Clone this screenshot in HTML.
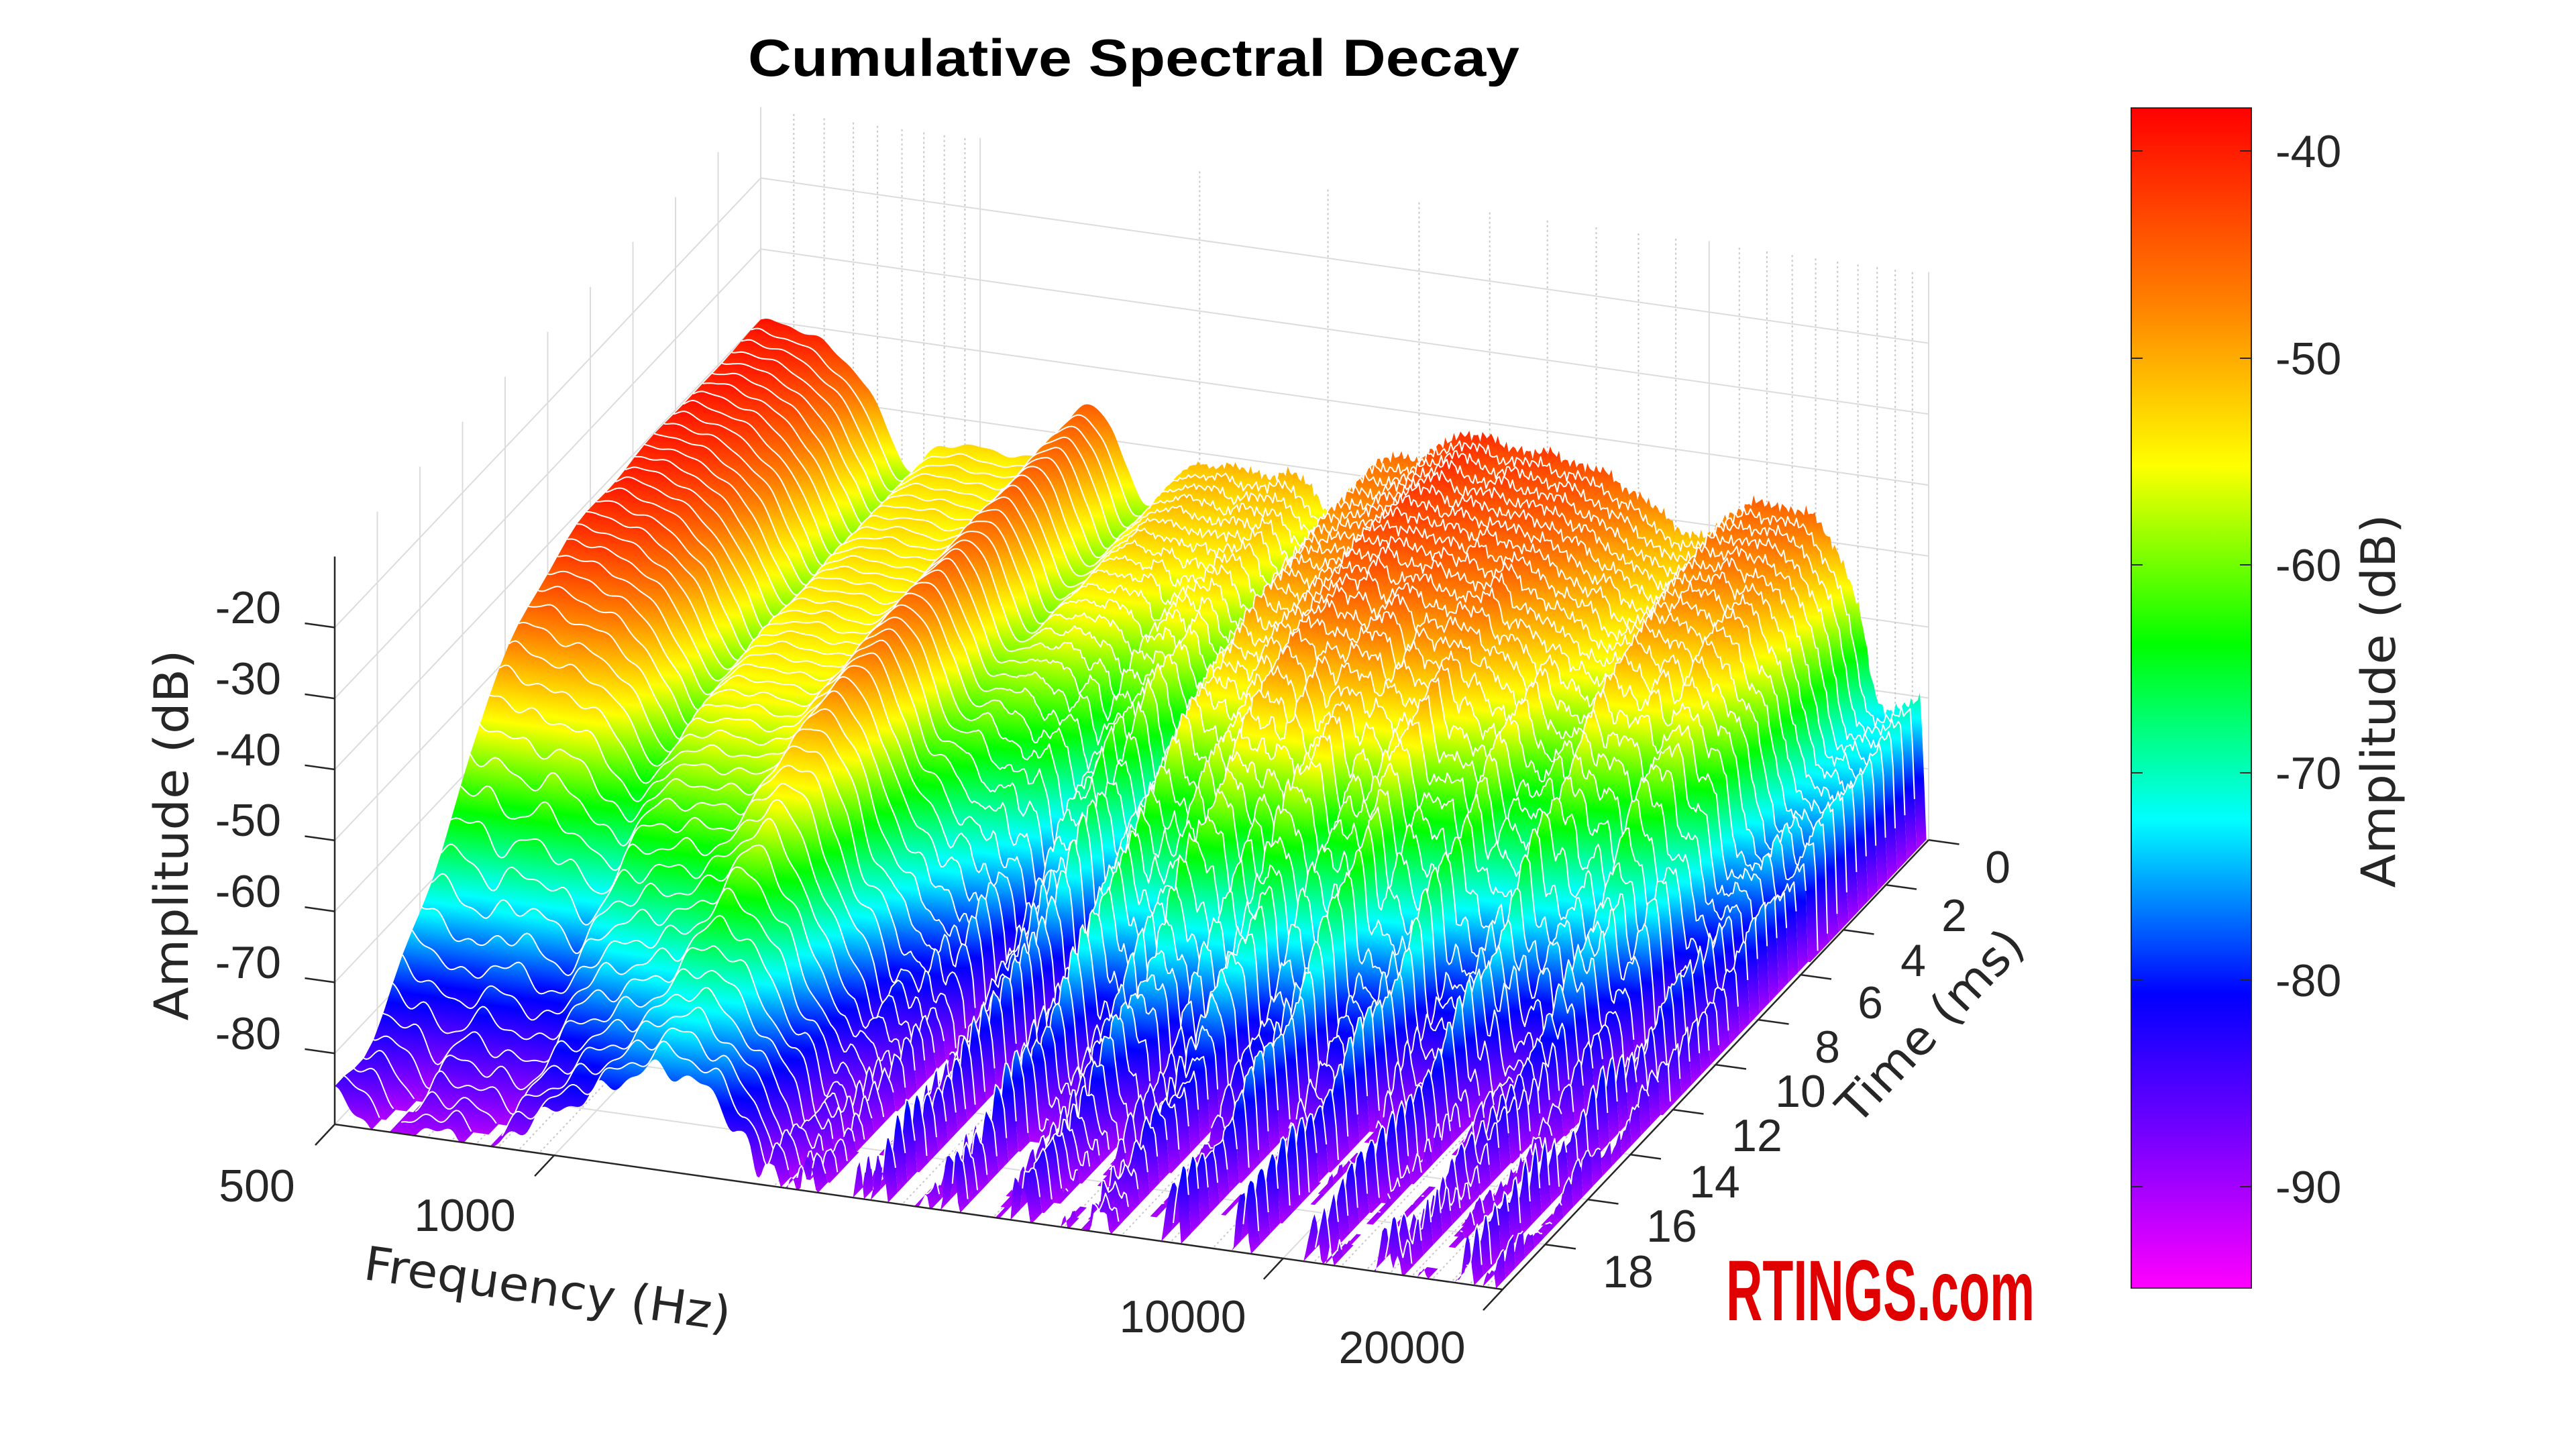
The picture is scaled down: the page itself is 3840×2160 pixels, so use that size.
<!DOCTYPE html>
<html><head><meta charset="utf-8">
<style>
html,body{margin:0;padding:0;background:#fff;overflow:hidden;}
svg{display:block;}
text{font-family:"Liberation Sans",Arial,sans-serif;fill:#262626;}
.lab{font-family:"DejaVu Sans","Liberation Sans",sans-serif;}
</style></head><body>
<svg id="svg" xmlns="http://www.w3.org/2000/svg" width="3840" height="2160" viewBox="0 0 3840 2160">
<defs>
<linearGradient id="cb" x1="0" y1="0" x2="0" y2="1">
<stop offset="0" stop-color="#ff0000"/><stop offset="0.165" stop-color="#ff8000"/><stop offset="0.303" stop-color="#ffff00"/><stop offset="0.454" stop-color="#00ff00"/><stop offset="0.603" stop-color="#00ffff"/><stop offset="0.751" stop-color="#0000ff"/><stop offset="0.88" stop-color="#8000ff"/><stop offset="1" stop-color="#ff00ff"/>
</linearGradient>
<linearGradient id="sg" gradientUnits="userSpaceOnUse" x1="0" y1="1054.6" x2="0" y2="1657.2" gradientTransform="skewY(8.045)">
<stop offset="0" stop-color="#ff0000"/><stop offset="0.165" stop-color="#ff8000"/><stop offset="0.303" stop-color="#ffff00"/><stop offset="0.454" stop-color="#00ff00"/><stop offset="0.603" stop-color="#00ffff"/><stop offset="0.751" stop-color="#0000ff"/><stop offset="0.88" stop-color="#8000ff"/><stop offset="1" stop-color="#ff00ff"/>
</linearGradient>
</defs>
<rect width="3840" height="2160" fill="#fff"/>
<g id="grid"></g>
<g id="surf"></g>
<g id="axes"></g>

<text x="1690" y="113" text-anchor="middle" font-size="78" font-weight="bold" style="fill:#000" textLength="1150" lengthAdjust="spacingAndGlyphs">Cumulative Spectral Decay</text>

<g font-size="68" text-anchor="end">
<text x="419" y="929">-20</text>
<text x="419" y="1035">-30</text>
<text x="419" y="1141">-40</text>
<text x="419" y="1246">-50</text>
<text x="419" y="1352">-60</text>
<text x="419" y="1458">-70</text>
<text x="419" y="1564">-80</text>
</g>
<g font-size="68" text-anchor="middle">
<text x="383" y="1791">500</text>
<text x="693" y="1835">1000</text>
<text x="1763" y="1986">10000</text>
<text x="2090" y="2032">20000</text>
<text x="2978" y="1316">0</text>
<text x="2913" y="1388">2</text>
<text x="2852" y="1455">4</text>
<text x="2788" y="1518">6</text>
<text x="2724" y="1584">8</text>
<text x="2684" y="1650">10</text>
<text x="2619" y="1716">12</text>
<text x="2556" y="1785">14</text>
<text x="2492" y="1851">16</text>
<text x="2427" y="1919">18</text>
</g>

<text class="lab" font-size="70" text-anchor="middle" transform="translate(280,1245) rotate(-90)" textLength="553" lengthAdjust="spacingAndGlyphs">Amplitude (dB)</text>
<text class="lab" font-size="70" text-anchor="middle" transform="translate(813,1945) rotate(8)" textLength="551" lengthAdjust="spacingAndGlyphs">Frequency (Hz)</text>
<text class="lab" font-size="70" text-anchor="middle" transform="translate(2895,1546) rotate(-46.5)" textLength="368" lengthAdjust="spacingAndGlyphs">Time (ms)</text>

<!-- colorbar -->
<rect x="3177" y="161" width="179" height="1759" fill="url(#cb)" stroke="#262626" stroke-width="2"/>
<g stroke="#262626" stroke-width="2">
<line x1="3177" y1="225" x2="3194" y2="225"/><line x1="3339" y1="225" x2="3356" y2="225"/>
<line x1="3177" y1="534" x2="3194" y2="534"/><line x1="3339" y1="534" x2="3356" y2="534"/>
<line x1="3177" y1="842" x2="3194" y2="842"/><line x1="3339" y1="842" x2="3356" y2="842"/>
<line x1="3177" y1="1152" x2="3194" y2="1152"/><line x1="3339" y1="1152" x2="3356" y2="1152"/>
<line x1="3177" y1="1461" x2="3194" y2="1461"/><line x1="3339" y1="1461" x2="3356" y2="1461"/>
<line x1="3177" y1="1769" x2="3194" y2="1769"/><line x1="3339" y1="1769" x2="3356" y2="1769"/>
</g>
<g font-size="68" text-anchor="start">
<text x="3392" y="249">-40</text>
<text x="3392" y="558">-50</text>
<text x="3392" y="866">-60</text>
<text x="3392" y="1176">-70</text>
<text x="3392" y="1485">-80</text>
<text x="3392" y="1793">-90</text>
</g>
<text class="lab" font-size="70" text-anchor="middle" transform="translate(3570,1045) rotate(-90)" textLength="557" lengthAdjust="spacingAndGlyphs">Amplitude (dB)</text>

<text x="2573" y="1968" font-size="128" font-weight="bold" style="fill:#e00000;font-family:'Liberation Sans Narrow','Liberation Sans',sans-serif" textLength="460" lengthAdjust="spacingAndGlyphs">RTINGS.com</text>
</svg>
<script>
(function(){
var NS='http://www.w3.org/2000/svg';
var OX=499,OY=1676,FX=1086.7,FY=153.6,TX=31.75,TY=33.5,ZS=10.58,LM=1.602;
function P(L,t,z){var d=20-t;return [OX+FX*L+d*TX, OY+FY*L-d*TY-(z+90)*ZS];}
function el(tag,attrs,parent){var e=document.createElementNS(NS,tag);for(var k in attrs)e.setAttribute(k,attrs[k]);parent.appendChild(e);return e;}
function line(g,a,b,stroke,w,dash){var o={x1:a[0].toFixed(1),y1:a[1].toFixed(1),x2:b[0].toFixed(1),y2:b[1].toFixed(1),stroke:stroke,'stroke-width':w};if(dash)o['stroke-dasharray']=dash;el('line',o,g);}
function Lf(f){return Math.log(f/500)/Math.LN10;}
var grid=document.getElementById('grid');
var major=[500,1000,10000,20000];
var minor=[555,611,670,723,781,837,893,953,2000,3000,4000,5000,6000,7000,8000,9000,11000,12000,13000,14000,15000,16000,17000,18000,19000];
var GM='#dcdcdc',Gm='#c8c8c8';
var z,t,i;
for(z=-80;z<=-20;z+=10) line(grid,P(0,0,z),P(LM,0,z),GM,2);
for(i=0;i<major.length;i++) line(grid,P(Lf(major[i]),0,-90),P(Lf(major[i]),0,-10),GM,2);
for(i=0;i<minor.length;i++) line(grid,P(Lf(minor[i]),0,-90),P(Lf(minor[i]),0,-10),Gm,2,'3,4');
for(z=-80;z<=-20;z+=10) line(grid,P(0,20,z),P(0,0,z),GM,2);
for(t=0;t<=18;t+=2) line(grid,P(0,t,-90),P(0,t,-10),GM,2);
for(t=0;t<=18;t+=2) line(grid,P(0,t,-90),P(LM,t,-90),GM,2);
for(i=0;i<major.length;i++) line(grid,P(Lf(major[i]),0,-90),P(Lf(major[i]),20,-90),GM,2);
for(i=0;i<minor.length;i++) line(grid,P(Lf(minor[i]),0,-90),P(Lf(minor[i]),20,-90),Gm,2,'3,4');

var A0p=[[0,-40.2],[0.0156,-39.9],[0.05,-40.6],[0.09,-42.1],[0.145,-47.3],[0.18,-54],[0.205,-58.5],[0.23,-55.5],[0.25,-54.1],[0.30,-53.6],[0.37,-54],[0.40,-51],[0.43,-47],[0.458,-45.5],[0.48,-48],[0.502,-53.3],[0.525,-58.4],[0.55,-56.5],[0.581,-52.8],[0.614,-51.4],[0.70,-51.7],[0.748,-51.7],[0.781,-56],[0.80,-54],[0.815,-51.4],[0.848,-47.6],[0.905,-46.1],[0.976,-41.7],[1.02,-43],[1.071,-43.1],[1.149,-44.6],[1.20,-47],[1.262,-51],[1.295,-51.8],[1.339,-47.2],[1.406,-45.9],[1.462,-48.7],[1.506,-58.7],[1.528,-70.3],[1.56,-72],[1.602,-69.5]];
var Dp=[[0,-86,14.6,1.8],[0.04,-88.5,14.6,1.8],[0.075,-92,14.6,1.8],[0.11,-89,14.8,1.8],[0.16,-89.5,15,1.8],[0.207,-91,15.5,1.8],[0.25,-87,16,1.8],[0.321,-82.6,16.2,1.9],[0.38,-79,16.3,2],[0.44,-75.8,16.5,2],[0.505,-77.4,15,2],[0.547,-82,12.5,2.2],[0.595,-88,10.5,2.5],[0.66,-92,9.5,2.6],[0.75,-92,10,2.6],[0.85,-92.5,12,2.6],[0.976,-93,12.2,2.5],[1.15,-93,11.5,2.5],[1.3,-93,10,2.4],[1.4,-93,9,2.2],[1.5,-92.5,8.5,2.5],[1.602,-92,7,3]];
function herm(pts,x,k){
 var n=pts.length;
 if(x<=pts[0][0]) return pts[0][k];
 if(x>=pts[n-1][0]) return pts[n-1][k];
 var i=1; while(x>pts[i][0]) i++;
 var a=pts[i-1],b=pts[i],h=b[0]-a[0],u=(x-a[0])/h;
 function m(j){ if(j<=0) return (pts[1][k]-pts[0][k])/(pts[1][0]-pts[0][0]); if(j>=n-1) return (pts[n-1][k]-pts[n-2][k])/(pts[n-1][0]-pts[n-2][0]); return (pts[j+1][k]-pts[j-1][k])/(pts[j+1][0]-pts[j-1][0]); }
 var m0=m(i-1)*h,m1=m(i)*h,u2=u*u,u3=u2*u;
 return (2*u3-3*u2+1)*a[k]+(u3-2*u2+u)*m0+(-2*u3+3*u2)*b[k]+(u3-u2)*m1;
}
function lin(pts,x,k){var n=pts.length;if(x<=pts[0][0])return pts[0][k];for(var i=1;i<n;i++){if(x<=pts[i][0]){var a=pts[i-1],b=pts[i];return a[k]+(b[k]-a[k])*(x-a[0])/(b[0]-a[0]);}}return pts[n-1][k];}
function sig(x){return 1/(1+Math.exp(-x));}
function Hn(t,t0,w){var a=sig(-t0/w),b=sig((20-t0)/w);return (sig((t-t0)/w)-a)/(b-a);}
function ramp(x,a,b){if(x<=a)return 0;if(x>=b)return 1;var u=(x-a)/(b-a);return u*u*(3-2*u);}
function R(L){return 0.55*Math.sin(L*61+0.9)+0.5*Math.sin(L*127+0.6)+0.4*Math.sin(L*203+0.3)+0.2*Math.sin(L*331+1.7);}
function A(L,t){
 var a0=herm(A0p,L,1),ae=herm(Dp,L,1),t0=lin(Dp,L,2),w=lin(Dp,L,3);
 var H=Hn(t,t0,w); if(H<0)H=0;
 var v=a0+(ae-a0)*H;
 var jr=ramp(L,0.52,0.72);
 var wig=0.9*Math.sin(L*88+t*1.6+0.5)+0.6*Math.sin(L*157-t*2.2+1.3);
 v+=(0.25+0.75*Math.min(1,H*2.5))*(1+0.5*jr)*wig;
 v+=jr*(1-0.6*H)*(0.5*Math.sin(L*610+t*0.9)+0.35*Math.sin(L*1130+2.1+t*1.7));
 v+=jr*9*Math.pow(H,0.8)*R(L);
 v-=25*ramp(L,1.59,1.602);
 return v;
}
var surf=document.getElementById('surf');
var NT=44,dt=20/NT,NL=534,FL=-90;
var Ls=[];for(i=0;i<=NL;i++)Ls.push(i*LM/NL);
var Z=[];for(var j=0;j<=NT;j++){var tt=j*dt;var row=[];for(i=0;i<=NL;i++)row.push(A(Ls[i],tt));Z.push(row);}
for(j=0;j<NT;j++){
 var t1=j*dt,t2=(j+1)*dt,tm=(t1+t2)/2,d=20-tm,ox=d*TX,oy=-d*TY;
 var g=el('g',{transform:'translate('+ox.toFixed(2)+','+oy.toFixed(2)+')'},surf);
 var za=Z[j],zb=Z[j+1];
 var dpath='';i=0;
 while(i<=NL){
  if(za[i]>FL||zb[i]>FL){
   var s=i;while(i<=NL&&(za[i]>FL||zb[i]>FL))i++;var e=i-1;
   s=Math.max(0,s-1);e=Math.min(NL,e+1);
   var pts=[],k,p;
   for(k=s;k<=e;k++){p=P(Ls[k],t1,Math.max(za[k],FL));pts.push((p[0]-ox).toFixed(1)+','+(p[1]-oy).toFixed(1));}
   for(k=e;k>=s;k--){p=P(Ls[k],t2,Math.max(zb[k],FL));pts.push((p[0]-ox).toFixed(1)+','+(p[1]-oy).toFixed(1));}
   dpath+='M'+pts.join('L')+'Z';
  } else i++;
 }
 if(dpath) el('path',{d:dpath,fill:'url(#sg)'},g);
 var lp='',pen=false;
 for(var q=0;q<=NL;q++){if(za[q]>FL){var pp=P(Ls[q],t1,za[q]);lp+=(pen?'L':'M')+pp[0].toFixed(1)+','+pp[1].toFixed(1);pen=true;}else pen=false;}
 if(lp&&j>0) el('path',{d:lp,fill:'none',stroke:'#fff','stroke-width':2,'stroke-linejoin':'round'},surf);
}
var ax=document.getElementById('axes'),AC='#262626';
line(ax,P(0,20,-90),P(0,20,-10),AC,2.5);
line(ax,P(0,20,-90),P(LM,20,-90),AC,2.5);
line(ax,P(LM,20,-90),P(LM,0,-90),AC,2.5);
for(z=-80;z<=-20;z+=10){var pz=P(0,20,z);line(ax,pz,[pz[0]-44.6,pz[1]-6.3],AC,2.5);}
for(i=0;i<major.length;i++){var pf=P(Lf(major[i]),20,-90);line(ax,pf,[pf[0]-29,pf[1]+31],AC,2.5);}
for(t=0;t<=18;t+=2){var pt=P(LM,t,-90);line(ax,pt,[pt[0]+45.6,pt[1]+6.45],AC,2.5);}
})();
</script>
</body></html>
